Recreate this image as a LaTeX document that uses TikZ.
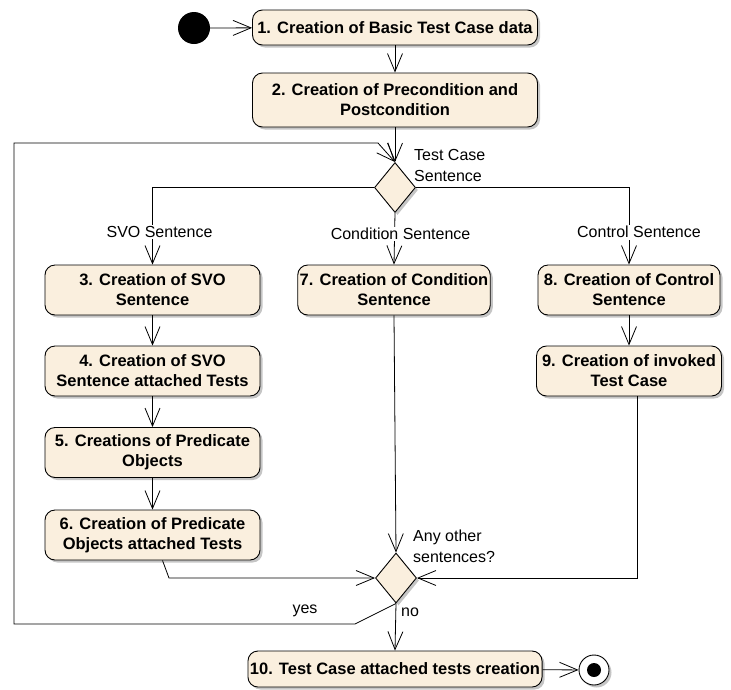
\documentclass[tikz,border=0pt]{standalone}
\usepackage{fontspec}
\setmainfont{Liberation Sans}
\usetikzlibrary{arrows.meta,shapes.geometric,shadows,calc}
\definecolor{actfill}{RGB}{250,239,222}
\begin{document}
\begin{tikzpicture}[x=1pt,y=-1pt,
  shade/.style={drop shadow={shadow xshift=2.5pt,shadow yshift=-2.5pt,fill=black!45,opacity=0.5}},
  act/.style={draw,line width=0.9pt,rounded corners=10pt,fill=actfill,shade,
    font=\fontsize{16.5}{20}\selectfont\bfseries,align=center,inner sep=2pt},
  dec/.style={diamond,draw,line width=0.9pt,fill=actfill,shade,inner sep=0pt,
    minimum width=41pt,minimum height=50pt},
  flow/.style={draw,line width=0.8pt,-{Straight Barb[length=18pt,width=15pt,line width=0.8pt]}},
  lbl/.style={font=\fontsize{16}{20}\selectfont,fill=white,inner sep=1.5pt},
  txt/.style={font=\fontsize{16}{21}\selectfont,inner sep=0pt,align=left}
]
\useasboundingbox (0,0) rectangle (731,689);

% start and end
\node[circle,fill=black,minimum size=32pt,inner sep=0pt] (start) at (194,28) {};
\node[circle,draw,line width=0.9pt,fill=white,shade,minimum size=30pt,inner sep=0pt] (stop) at (594,670) {};
\fill (stop.center) circle (7pt);

% activities
\node[act,minimum width=285pt,minimum height=35pt] (n1) at (395,27.5) {1. Creation of Basic Test Case data};
\node[act,minimum width=285pt,minimum height=54pt] (n2) at (395,100) {2. Creation of Precondition and\\Postcondition};
\node[dec] (d1) at (395,187.5) {};

\node[act,minimum width=215pt,minimum height=50pt] (n3) at (152.5,290) {3. Creation of SVO\\Sentence};
\node[act,minimum width=215pt,minimum height=50pt] (n4) at (152.5,371) {4. Creation of SVO\\Sentence attached Tests};
\node[act,minimum width=215pt,minimum height=50pt] (n5) at (152.5,452.5) {5. Creations of Predicate\\Objects};
\node[act,minimum width=215pt,minimum height=50pt] (n6) at (152.5,535) {6. Creation of Predicate\\Objects attached Tests};

\node[act,minimum width=188pt,minimum height=50pt] (n7) at (394,290) {7. Creation of Condition\\Sentence};
\node[act,minimum width=182pt,minimum height=50pt] (n8) at (629,290) {8. Creation of Control\\Sentence};
\node[act,minimum width=185pt,minimum height=50pt] (n9) at (629,371) {9. Creation of invoked\\Test Case};

\node[dec] (d2) at (396,578) {};
\node[act,minimum width=290pt,minimum height=36pt] (n10) at (395,669) {10. Test Case attached tests creation};

% guard and decision texts
\node[txt,anchor=west] (q1) at (414,165) {Test Case\\Sentence};
\node[txt,anchor=west] (q2) at (413,546) {Any other\\sentences?};
\node[txt] (yes) at (305,611) {yes};
\node[txt] (no) at (410,612) {no};

% loop-back route
\coordinate (y1) at (355,624);
\coordinate (y2) at (14,624);
\coordinate (y3) at (14,143);
\coordinate (y4) at (378,143);
\coordinate (c6) at (169,578);

% flows
\draw[flow] (start) -- (n1);
\draw[flow] (n1) -- (n2);
\draw[flow] (n2) -- (d1.north);
\draw[flow] (d1.west) -| node[lbl,pos=0.79,xshift=7pt] {SVO Sentence} (n3.north);
\draw[flow] (d1.south) -- node[lbl,pos=0.41,xshift=6pt] {Condition Sentence} (n7.north);
\draw[flow] (d1.east) -| node[lbl,pos=0.79,xshift=10pt] {Control Sentence} (n8.north);
\draw[flow] (n3) -- (n4);
\draw[flow] (n4) -- (n5);
\draw[flow] (n5) -- (n6);
\draw[flow] (n8) -- (n9);
\draw[flow] (n7.south) -- (d2.north);
\draw[flow] ([xshift=10pt]n6.south) -- (c6) -- (d2.west);
\draw[flow] ([xshift=8pt]n9.south) |- (d2.east);
\draw[flow] (d2.south) -- (y1) -- (y2) -- (y3) -- (y4) -- (d1.north);
\draw[flow] (d2.south) -- (n10.north);
\draw[flow] (n10) -- (stop);
\end{tikzpicture}
\end{document}
